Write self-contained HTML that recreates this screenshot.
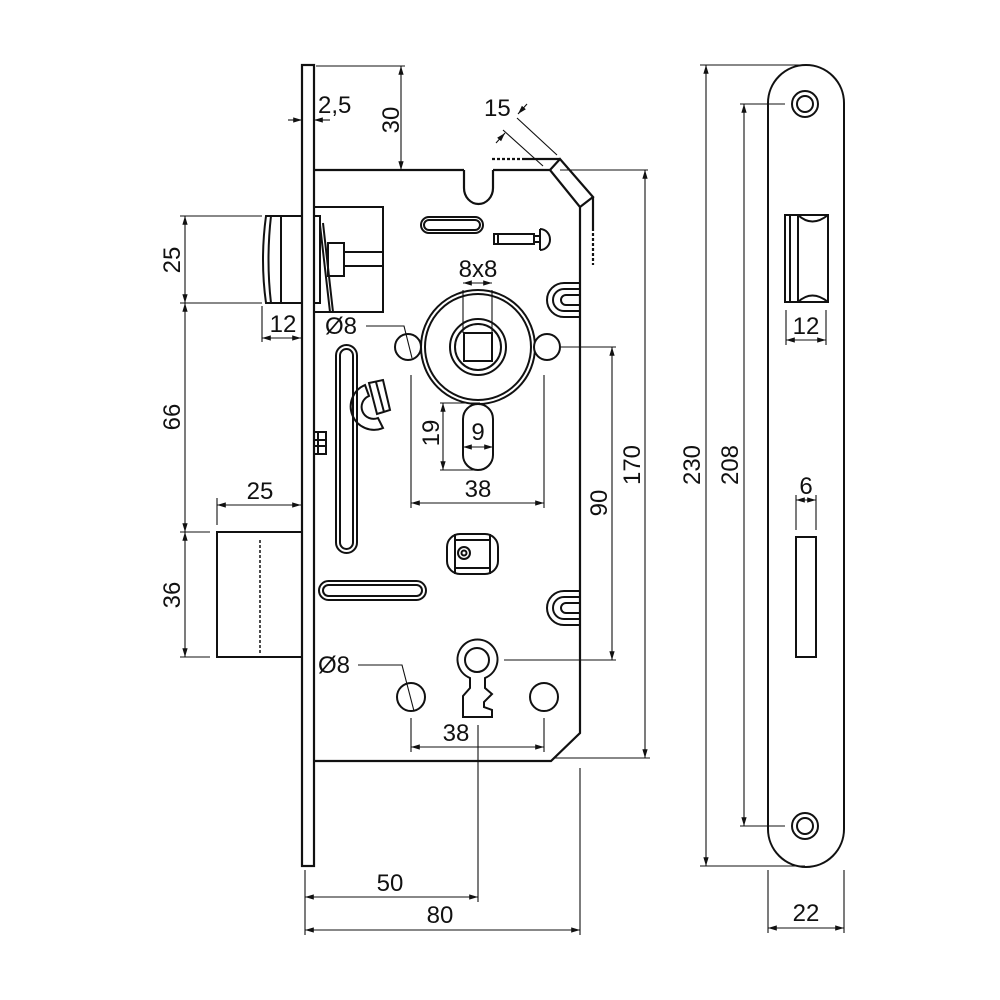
<!DOCTYPE html>
<html><head><meta charset="utf-8"><style>
html,body{margin:0;padding:0;background:#fff}
svg{display:block}
text{font-family:"Liberation Sans",sans-serif;font-size:24px;fill:#111}
</style></head><body>
<svg width="1000" height="1000" viewBox="0 0 1000 1000" xmlns="http://www.w3.org/2000/svg">
<defs>
<marker id="a" viewBox="0 0 10 10" refX="10" refY="5" markerWidth="8" markerHeight="8" orient="auto-start-reverse"><path d="M0,2 L10,5 L0,8 z" fill="#111"/></marker>
</defs>
<g fill="none" stroke="#111" stroke-width="2.2">
<rect x="302" y="65" width="12" height="801"/>
<path d="M314,170 H464 M493,170 H550 L580,207 V733 L551,761 H314"/>
<path d="M464,170 V188 A14.5,16 0 0 0 493,188 V170"/>
<path d="M550,170 L560,159 L593,197 L580,207"/>
<path d="M525,159 H560" />
<path d="M593,197 V228"/>
</g>
<g fill="none" stroke="#111" stroke-width="2.2" stroke-dasharray="3,2">
<path d="M492,159 H525"/>
<path d="M593,228 V265"/>
<path d="M260,540 V655" stroke-width="1.5"/>
</g>
<g fill="none" stroke="#111" stroke-width="2">
<path d="M302,216 H266 Q260,260 266,303 H302"/>
<path d="M271,216 Q266,260 271,303"/>
<path d="M281,216 V303"/>
<rect x="314" y="207" width="69" height="105"/>
<rect x="314" y="216" width="6" height="87"/>
<path d="M320,225 L330,312 M323,223 L333,312"/>
<rect x="328" y="243" width="16" height="33"/>
<rect x="344" y="252" width="39" height="14"/>
<rect x="421" y="217" width="62" height="16" rx="8"/>
<rect x="424" y="220" width="56" height="10" rx="5"/>
<rect x="494" y="234" width="40" height="10"/>
<path d="M498,234 V244"/>
<path d="M540,229 V250 M540,229 A10,10.5 0 0 1 540,250"/>
<path d="M534,236 H540 M534,242 H540"/>
<circle cx="478" cy="347" r="57"/>
<circle cx="478" cy="347" r="53"/>
<circle cx="478" cy="347" r="28"/>
<circle cx="478" cy="347" r="23"/>
<rect x="464" y="333" width="28" height="28"/>
<circle cx="408" cy="347" r="13" fill="#fff"/>
<circle cx="547" cy="347" r="13" fill="#fff"/>
<rect x="463" y="404" width="30" height="66" rx="15"/>
<path d="M580,283 H564 A17,17 0 0 0 564,317 H580"/>
<path d="M580,289 H564 A11,11 0 0 0 564,311 H580"/>
<path d="M580,295 H566 A5,5 0 0 0 566,305 H580"/>
<path d="M580,591 H564 A17,17 0 0 0 564,625 H580"/>
<path d="M580,597 H564 A11,11 0 0 0 564,619 H580"/>
<path d="M580,603 H566 A5,5 0 0 0 566,613 H580"/>
<rect x="336" y="345" width="21" height="208" rx="10.5"/>
<rect x="340" y="349" width="13" height="200" rx="6.5"/>
<path d="M365,385 A21,21 0 0 0 383,428 L378,418 A11,11 0 0 1 369,396 Z"/>
<path d="M369,383 L383,380 L390,410 L377,414 Z"/>
<path d="M376,382 L384,412"/>
<rect x="314" y="432" width="12" height="22"/>
<path d="M318,432 V454 M314,440 H326 M314,446 H326"/>
<rect x="447" y="534" width="51" height="40" rx="13"/>
<path d="M455,534 V574 M490,534 V574 M455,540 H490 M455,568 H490"/>
<circle cx="464" cy="553" r="6"/>
<circle cx="464" cy="553" r="2.5"/>
<rect x="319" y="581" width="107" height="19" rx="9.5"/>
<rect x="323" y="585" width="99" height="11" rx="5.5"/>
<path d="M470,678 A20,20 0 1 1 485,678 V688 L492,694 L484,702 V707 L492,710 V717 H463 V696 L470,688 Z"/>
<circle cx="477" cy="660" r="12"/>
<circle cx="411" cy="697" r="14"/>
<circle cx="544" cy="697" r="14"/>
<rect x="217" y="532" width="85" height="125"/>
<path d="M768,103 A38,38 0 0 1 844,103 V829 A38,38 0 0 1 768,829 Z"/>
<circle cx="805" cy="104" r="13"/>
<circle cx="805" cy="104" r="8"/>
<circle cx="805" cy="826" r="13"/>
<circle cx="805" cy="826" r="8"/>
<path d="M785,215 H828 V302 H785 Z"/>
<path d="M790,215 V302 M798,215 V302 M798,215 Q812,228 828,215 M798,302 Q812,289 828,302"/>
<rect x="796" y="537" width="20" height="120"/>
</g>
<g fill="none" stroke="#111" stroke-width="1.1">
<path d="M316,66 H405"/>
<path d="M288,120 H302" marker-end="url(#a)"/><path d="M330,120 H314" marker-end="url(#a)"/>
<path d="M401,66 V170" marker-start="url(#a)" marker-end="url(#a)"/>
<path d="M557,155 L517,118"/>
<path d="M543,166 L503,130"/>
<path d="M527,104 L518,114" marker-end="url(#a)"/>
<path d="M496,143 L505,133" marker-end="url(#a)"/>
<path d="M560,170 H648"/>
<path d="M180,216 H262 M180,303 H262"/>
<path d="M185,216 V303" marker-start="url(#a)" marker-end="url(#a)"/>
<path d="M262,306 V342"/>
<path d="M262,338 H301" marker-start="url(#a)" marker-end="url(#a)"/>
<path d="M185,303 V532" marker-start="url(#a)" marker-end="url(#a)"/>
<path d="M180,532 H210 M180,657 H210"/>
<path d="M185,532 V657" marker-start="url(#a)" marker-end="url(#a)"/>
<path d="M217,498 V525"/>
<path d="M217,505 H301" marker-start="url(#a)" marker-end="url(#a)"/>
<path d="M463,290 V333 M492,290 V333"/>
<path d="M463,283 H492" marker-start="url(#a)" marker-end="url(#a)"/>
<path d="M366,326 H404 L412,358"/>
<path d="M440,403 H480 M440,470 H480"/>
<path d="M443,403 V470" marker-start="url(#a)" marker-end="url(#a)"/>
<path d="M463,447 H493" marker-start="url(#a)" marker-end="url(#a)"/>
<path d="M411,375 V508 M544,375 V508"/>
<path d="M411,503 H544" marker-start="url(#a)" marker-end="url(#a)"/>
<path d="M561,347 H616 M504,660 H616"/>
<path d="M612,347 V660" marker-start="url(#a)" marker-end="url(#a)"/>
<path d="M555,758 H650"/>
<path d="M645,170 V758" marker-start="url(#a)" marker-end="url(#a)"/>
<path d="M358,665 H402 L414,711"/>
<path d="M411,718 V752 M544,718 V752"/>
<path d="M411,747 H544" marker-start="url(#a)" marker-end="url(#a)"/>
<path d="M478,725 V902 M305,870 V935 M580,768 V935"/>
<path d="M305,897 H478" marker-start="url(#a)" marker-end="url(#a)"/>
<path d="M305,930 H580" marker-start="url(#a)" marker-end="url(#a)"/>
<path d="M700,65 H805 M700,866 H805"/>
<path d="M706,65 V866" marker-start="url(#a)" marker-end="url(#a)"/>
<path d="M740,104 H785 M740,826 H785"/>
<path d="M744,104 V826" marker-start="url(#a)" marker-end="url(#a)"/>
<path d="M786,310 V345 M826,310 V345"/>
<path d="M786,340 H826" marker-start="url(#a)" marker-end="url(#a)"/>
<path d="M796,495 V530 M816,495 V530"/>
<path d="M796,500 H816" marker-start="url(#a)" marker-end="url(#a)"/>
<path d="M768,870 V933 M844,870 V933"/>
<path d="M768,928 H844" marker-start="url(#a)" marker-end="url(#a)"/>
</g>
<g>
<text x="318" y="113">2,5</text>
<text transform="translate(399,120) rotate(-90)" text-anchor="middle">30</text>
<text x="484" y="116">15</text>
<text transform="translate(180,260) rotate(-90)" text-anchor="middle">25</text>
<text x="283" y="332" text-anchor="middle">12</text>
<text transform="translate(180,417) rotate(-90)" text-anchor="middle">66</text>
<text transform="translate(180,595) rotate(-90)" text-anchor="middle">36</text>
<text x="260" y="499" text-anchor="middle">25</text>
<text x="478" y="277" text-anchor="middle">8x8</text>
<text x="325" y="334">Ø8</text>
<text transform="translate(439,433) rotate(-90)" text-anchor="middle">19</text>
<text x="478" y="440" text-anchor="middle">9</text>
<text x="478" y="497" text-anchor="middle">38</text>
<text transform="translate(607,503) rotate(-90)" text-anchor="middle">90</text>
<text transform="translate(640,465) rotate(-90)" text-anchor="middle">170</text>
<text x="318" y="673">Ø8</text>
<text x="456" y="741" text-anchor="middle">38</text>
<text x="390" y="891" text-anchor="middle">50</text>
<text x="440" y="923" text-anchor="middle">80</text>
<text transform="translate(700,465) rotate(-90)" text-anchor="middle">230</text>
<text transform="translate(738,465) rotate(-90)" text-anchor="middle">208</text>
<text x="806" y="334" text-anchor="middle">12</text>
<text x="806" y="494" text-anchor="middle">6</text>
<text x="806" y="921" text-anchor="middle">22</text>
</g>
</svg>
</body></html>
